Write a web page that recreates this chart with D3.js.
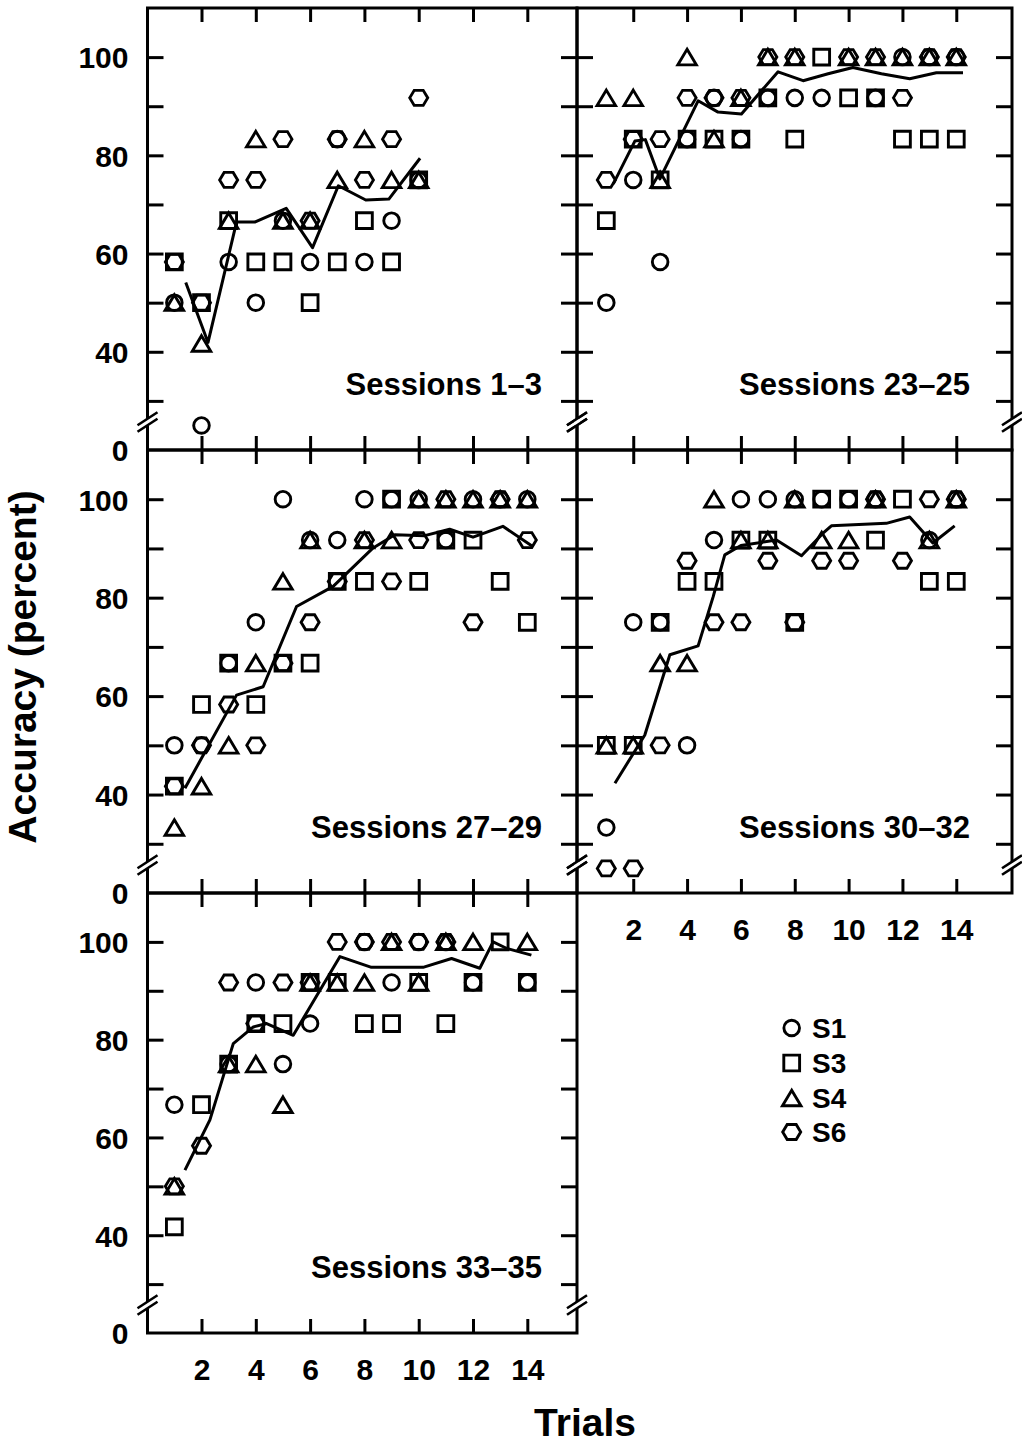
<!DOCTYPE html>
<html>
<head>
<meta charset="utf-8">
<script src="https://cdn.jsdelivr.net/npm/d3@7"></script>
<style>
  body { margin: 0; background: #fff; }
  svg text { font-family: "Liberation Sans", Arial, Helvetica, sans-serif; font-weight: bold; fill: #000; }
</style>
</head>
<body>
<svg id="chart" width="1022" height="1444"></svg>
<script>
// ---- data -------------------------------------------------------------
const subjects = ["S1", "S3", "S4", "S6"];
const xTickValues = [2, 4, 6, 8, 10, 12, 14];
const yTickValues = [30, 40, 50, 60, 70, 80, 90, 100];
const yLabelValues = [0, 40, 60, 80, 100];
const sessionLabels = ["Sessions 1–3", "Sessions 23–25", "Sessions 27–29", "Sessions 30–32", "Sessions 33–35"];

// Sessions 1–3 (ten trials); accuracy in percent per trial, null = not shown
const ses1_3_S1 = [50, 25, 58.3, 50, 66.7, 58.3, 83.3, 58.3, 66.7, 75];
const ses1_3_S3 = [58.3, 50, 66.7, 58.3, 58.3, 50, 58.3, 66.7, 58.3, 75];
const ses1_3_S4 = [50, 41.7, 66.7, 83.3, 66.7, 66.7, 75, 83.3, 75, 75];
const ses1_3_S6 = [58.3, 50, 75, 75, 83.3, 66.7, 83.3, 75, 83.3, 91.7];
const ses1_3_meanTrial = [1.42, 2.24, 3.29, 3.96, 5.12, 6.09, 7.04, 8.05, 8.9, 10.05];
const ses1_3_meanPct = [54.1, 41.9, 66.4, 66.4, 69.2, 61.2, 73.8, 70.9, 71.1, 79.4];

// Sessions 23–25
const ses23_25_S1 = [50, 75, 58.3, 83.3, 91.7, 83.3, 91.7, 91.7, 91.7, null, 91.7, 100, 100, 100];
const ses23_25_S3 = [66.7, 83.3, 75, 83.3, 83.3, 83.3, 91.7, 83.3, 100, 91.7, 91.7, 83.3, 83.3, 83.3];
const ses23_25_S4 = [91.7, 91.7, 75, 100, 83.3, 91.7, 100, 100, null, 100, 100, 100, 100, 100];
const ses23_25_S6 = [75, 83.3, 83.3, 91.7, 91.7, 91.7, 100, 100, null, 100, 100, 91.7, 100, 100];
const ses23_25_meanTrial = [1.26, 2.06, 2.45, 2.99, 4.41, 5.15, 6.02, 6.82, 7.38, 8.31, 9.24, 10.16, 11.22, 12.27, 13.26, 14.25];
const ses23_25_meanPct = [74.2, 82.9, 83.2, 75.2, 91.1, 88.8, 88.4, 93.5, 97.0, 95.2, 96.6, 97.9, 96.6, 95.6, 96.8, 96.8];

// Sessions 27–29
const ses27_29_S1 = [50, 50, 66.7, 75, 100, 91.7, 91.7, 100, 100, 100, 91.7, 100, 100, 100];
const ses27_29_S3 = [41.7, 58.3, 66.7, 58.3, 66.7, 66.7, 83.3, 83.3, 100, 83.3, 91.7, 91.7, 83.3, 75];
const ses27_29_S4 = [33.3, 41.7, 50, 66.7, 83.3, 91.7, null, 91.7, 91.7, 100, 100, 100, 100, 100];
const ses27_29_S6 = [41.7, 50, 58.3, 50, 66.7, 75, 83.3, 91.7, 83.3, 91.7, 100, 75, 100, 91.7];
const ses27_29_meanTrial = [1.39, 3.29, 4.27, 5.5, 6.85, 8.32, 9.12, 10.22, 11.14, 12.0, 13.1, 14.2];
const ses27_29_meanPct = [41.3, 60.2, 61.9, 78.2, 82.3, 90.1, 92.8, 92.6, 93.9, 92.3, 94.5, 90.4];

// Sessions 30–32
const ses30_32_S1 = [33.3, 75, 75, 50, 91.7, 100, 100, 100, 100, 100, 100, null, 91.7, 100];
const ses30_32_S3 = [50, 50, 75, 83.3, 83.3, 91.7, 91.7, 75, 100, 100, 91.7, 100, 83.3, 83.3];
const ses30_32_S4 = [50, 50, 66.7, 66.7, 100, 91.7, 91.7, 100, 91.7, 91.7, 100, null, 91.7, 100];
const ses30_32_S6 = [25, 25, 50, 87.5, 75, 75, 87.5, 75, 87.5, 87.5, 100, 87.5, 100, 100];
const ses30_32_meanTrial = [1.32, 2.43, 3.36, 4.41, 4.97, 5.4, 6.0, 7.32, 8.25, 9.05, 9.36, 11.4, 12.27, 13.13, 13.94];
const ses30_32_meanPct = [42.3, 52.1, 68.4, 70.2, 80.2, 88.7, 90.6, 91.7, 88.5, 93.1, 94.6, 95.1, 96.4, 91.1, 94.6];

// Sessions 33–35
const ses33_35_S1 = [66.7, null, 75, 91.7, 75, 83.3, null, 100, 91.7, 100, 100, 91.7, null, 91.7];
const ses33_35_S3 = [41.7, 66.7, 75, 83.3, 83.3, 91.7, 91.7, 83.3, 83.3, 91.7, 83.3, 91.7, 100, 91.7];
const ses33_35_S4 = [50, null, 75, 75, 66.7, 91.7, 91.7, 91.7, 100, 91.7, 100, 100, null, 100];
const ses33_35_S6 = [50, 58.3, 91.7, 83.3, 91.7, 91.7, 100, 100, 100, 100, 100, null, null, null];
const ses33_35_meanTrial = [1.39, 2.31, 3.17, 3.91, 4.4, 5.38, 7.1, 8.26, 10.16, 11.21, 12.25, 12.74, 13.23, 14.15];
const ses33_35_meanPct = [53.3, 63.6, 79.2, 82.6, 83.3, 80.9, 97.0, 94.8, 94.8, 96.6, 94.6, 100, 98.7, 97.3];

// ---- layout -----------------------------------------------------------
const cols = [
  { frameL: 147.5, frameR: 577, x0: 147.2, tMax: 15.83, labelRight: 542 },
  { frameL: 577, frameR: 1012, x0: 579.4, tMax: 16.07, labelRight: 970 }
];
const rows = [
  { top: 8, bottom: 450 },
  { top: 450, bottom: 893 },
  { top: 893, bottom: 1333 }
];

const panels = [
  { label: sessionLabels[0], col: 0, row: 0, series: [ses1_3_S1, ses1_3_S3, ses1_3_S4, ses1_3_S6], meanT: ses1_3_meanTrial, meanV: ses1_3_meanPct, xLabels: false, yLabels: true },
  { label: sessionLabels[1], col: 1, row: 0, series: [ses23_25_S1, ses23_25_S3, ses23_25_S4, ses23_25_S6], meanT: ses23_25_meanTrial, meanV: ses23_25_meanPct, xLabels: false, yLabels: false },
  { label: sessionLabels[2], col: 0, row: 1, series: [ses27_29_S1, ses27_29_S3, ses27_29_S4, ses27_29_S6], meanT: ses27_29_meanTrial, meanV: ses27_29_meanPct, xLabels: false, yLabels: true },
  { label: sessionLabels[3], col: 1, row: 1, series: [ses30_32_S1, ses30_32_S3, ses30_32_S4, ses30_32_S6], meanT: ses30_32_meanTrial, meanV: ses30_32_meanPct, xLabels: true, yLabels: false },
  { label: sessionLabels[4], col: 0, row: 2, series: [ses33_35_S1, ses33_35_S3, ses33_35_S4, ses33_35_S6], meanT: ses33_35_meanTrial, meanV: ses33_35_meanPct, xLabels: true, yLabels: true }
];

// ---- marker shapes (open symbols) -------------------------------------
function trianglePath(w, h) {
  const p = d3.path();
  p.moveTo(0, -h / 2); p.lineTo(w / 2, h / 2); p.lineTo(-w / 2, h / 2); p.closePath();
  return p.toString();
}
function hexagonPath(a, b) {
  const p = d3.path();
  p.moveTo(-a, 0); p.lineTo(-a / 2, -b); p.lineTo(a / 2, -b);
  p.lineTo(a, 0); p.lineTo(a / 2, b); p.lineTo(-a / 2, b); p.closePath();
  return p.toString();
}
const markerPath = {
  S1: d3.symbol(d3.symbolCircle, Math.PI * 7.8 * 7.8)(),
  S3: d3.symbol(d3.symbolSquare, 15.8 * 15.8)(),
  S4: trianglePath(18.5, 15.5),
  S6: hexagonPath(9.0, 7.5)
};
const MARK_STROKE = 2.9;

const svg = d3.select("#chart");
const STROKE = 3;

panels.forEach(p => {
  const c = cols[p.col], r = rows[p.row];
  const x = d3.scaleLinear().domain([0, c.tMax]).range([c.x0, c.frameR]);
  // broken axis: everything below 20 collapses onto the floor that reads 0
  const y = d3.scaleLinear().domain([0, 20, 110]).range([r.bottom, r.bottom, r.top]);
  const g = svg.append("g");

  // frame
  g.append("rect")
    .attr("x", c.frameL).attr("y", r.top)
    .attr("width", c.frameR - c.frameL).attr("height", r.bottom - r.top)
    .attr("fill", "none").attr("stroke", "#000").attr("stroke-width", STROKE);

  // inward ticks on all four sides
  const tickStyle = sel => {
    sel.select(".domain").remove();
    sel.selectAll(".tick line").attr("stroke", "#000").attr("stroke-width", STROKE);
    sel.selectAll(".tick text").remove();
  };
  g.append("g").attr("transform", `translate(${c.frameL},0)`)
    .call(d3.axisLeft(y).tickValues(yTickValues).tickSize(-16)).call(tickStyle);
  g.append("g").attr("transform", `translate(${c.frameR},0)`)
    .call(d3.axisRight(y).tickValues(yTickValues).tickSize(-16)).call(tickStyle);
  g.append("g").attr("transform", `translate(0,${r.top})`)
    .call(d3.axisTop(x).tickValues(xTickValues).tickSize(-14)).call(tickStyle);
  g.append("g").attr("transform", `translate(0,${r.bottom})`)
    .call(d3.axisBottom(x).tickValues(xTickValues).tickSize(-14)).call(tickStyle);

  // y labels
  if (p.yLabels) {
    const ya = g.append("g").attr("transform", `translate(${c.frameL},0)`)
      .call(d3.axisLeft(y).tickValues(yLabelValues).tickSize(0).tickPadding(19));
    ya.select(".domain").remove();
    ya.attr("font-family", null).attr("font-size", null);
    ya.selectAll(".tick text").style("font-size", "30px").attr("dy", "0.36em");
  }
  // x labels
  if (p.xLabels) {
    const xa = g.append("g").attr("transform", `translate(0,${r.bottom})`)
      .call(d3.axisBottom(x).tickValues(xTickValues).tickSize(0).tickPadding(26));
    xa.select(".domain").remove();
    xa.attr("font-family", null).attr("font-size", null);
    xa.selectAll(".tick text").style("font-size", "30px").attr("dy", "0.71em");
  }

  // group mean line
  const meanPts = p.meanT.map((t, i) => [t, p.meanV[i]]);
  g.append("path")
    .attr("d", d3.line().x(d => x(d[0])).y(d => y(d[1]))(meanPts))
    .attr("fill", "none").attr("stroke", "#000").attr("stroke-width", STROKE)
    .attr("stroke-linejoin", "round");

  // subject markers
  subjects.forEach((s, si) => {
    const pts = p.series[si].map((v, i) => ({ t: i + 1, v })).filter(d => d.v != null);
    g.selectAll(null).data(pts).enter().append("path")
      .attr("d", markerPath[s])
      .attr("transform", d => `translate(${x(d.t)},${y(d.v)})`)
      .attr("fill", "none").attr("stroke", "#000").attr("stroke-width", MARK_STROKE);
  });

  // session label
  g.append("text")
    .attr("x", c.labelRight).attr("y", r.bottom - 55)
    .attr("text-anchor", "end").style("font-size", "31px")
    .text(p.label);

  // axis-break marks on both side frames
  [c.frameL, c.frameR].forEach(xf => {
    const yb = r.bottom - 28;
    g.append("rect").attr("x", xf - 3).attr("y", yb - 3.2)
      .attr("width", 6).attr("height", 6.4).attr("fill", "#fff");
    [-3.25, 3.25].forEach(off => {
      g.append("line")
        .attr("x1", xf - 10).attr("y1", yb + off + 6.5)
        .attr("x2", xf + 10).attr("y2", yb + off - 6.5)
        .attr("stroke", "#000").attr("stroke-width", 2.6);
    });
  });
});

// legend
const legendRows = [1028, 1063, 1098, 1132];
const legend = svg.append("g");
subjects.forEach((s, i) => {
  legend.append("path").attr("d", markerPath[s])
    .attr("transform", `translate(791.7,${legendRows[i]})`)
    .attr("fill", "none").attr("stroke", "#000").attr("stroke-width", MARK_STROKE);
  legend.append("text").attr("x", 812).attr("y", legendRows[i])
    .attr("dy", "0.36em").style("font-size", "28px").text(s);
});

// axis titles
svg.append("text")
  .attr("transform", "translate(36,667) rotate(-90)")
  .attr("text-anchor", "middle").style("font-size", "39px")
  .text("Accuracy (percent)");
svg.append("text")
  .attr("x", 585).attr("y", 1436)
  .attr("text-anchor", "middle").style("font-size", "39px")
  .text("Trials");
</script>
</body>
</html>
